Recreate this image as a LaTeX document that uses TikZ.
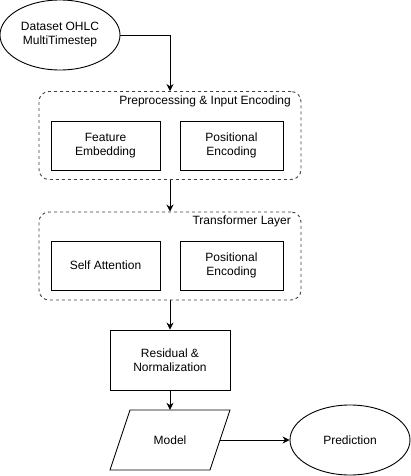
\documentclass[tikz,border=0pt]{standalone}
\usepackage{fontspec}
\setmainfont{Liberation Sans}
\usetikzlibrary{shapes.geometric,arrows.meta,calc}
\begin{document}
\begin{tikzpicture}[x=1pt,y=-1pt,
  every node/.style={font=\fontsize{12}{14}\selectfont, align=center},
  lw/.style={line width=0.9pt},
  ell/.style={lw, draw, ellipse, minimum width=120pt, minimum height=70pt, inner sep=0pt},
  box/.style={lw, draw, rectangle, inner sep=0pt},
  grp/.style={lw, draw=black!75, dash pattern=on 3pt off 3pt, rounded corners=10pt, inner sep=0pt},
  arr/.style={lw, -{Stealth[length=7pt,width=7pt]}},
  ttl/.style={anchor=east, inner sep=0pt}
]
\useasboundingbox (0,0) rectangle (411,476);

\node[ell] (data) at (60,35) {Dataset OHLC\\MultiTimestep};

\node[grp, minimum width=262pt, minimum height=88pt] (g1) at (170,135.5) {};
\node[ttl] (t1) at (291,101) {Preprocessing \& Input Encoding};
\node[box, minimum width=109pt, minimum height=49pt] (fe) at (105.5,145.5) {Feature\\Embedding};
\node[box, minimum width=103pt, minimum height=49pt] (pe1) at (231.5,145.5) {Positional\\Encoding};

\node[grp, minimum width=262pt, minimum height=88pt] (g2) at (170,256) {};
\node[ttl] (t2) at (291,221) {Transformer Layer};
\node[box, minimum width=109pt, minimum height=49pt] (sa) at (105.5,265.5) {Self Attention};
\node[box, minimum width=103pt, minimum height=49pt] (pe2) at (231.5,265.5) {Positional\\Encoding};

\node[box, minimum width=120pt, minimum height=60pt] (res) at (170,360) {Residual \&\\Normalization};

\node[inner sep=0pt, minimum width=100pt, minimum height=60pt] (model) at (170,440) {Model};
\draw[lw] (110,470) -- (130,410) -- (230,410) -- (210,470) -- cycle;

\node[ell] (pred) at (350,440) {Prediction};

\draw[arr] (data.east) -| (g1.north);
\draw[arr] (g1.south) -- (g2.north);
\draw[arr] (g2.south) -- (res.north);
\draw[arr] (res.south) -- (model.north);
\draw[arr] (model.east) -- (pred.west);
\end{tikzpicture}
\end{document}
